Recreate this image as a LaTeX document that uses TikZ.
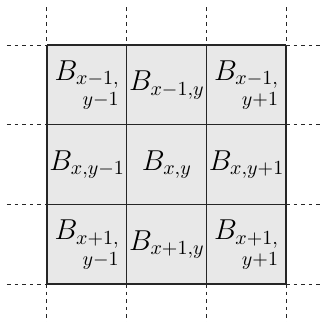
\documentclass[tikz,border=0pt]{standalone}
\usepackage{amsmath}
\begin{document}
\begin{tikzpicture}[x=0.5pt,y=-0.5pt,
  cellbox/.style={minimum width=39.8pt,minimum height=39.8pt,inner sep=0pt,anchor=north west,font=\fontsize{14}{17}\selectfont},
  gridline/.style={draw=black!85,line width=0.75pt},
  gridext/.style={draw=black!85,line width=0.5pt,dash pattern=on 1.8pt off 2pt}]
\useasboundingbox (0,0) rectangle (323,322);
\def\cw{79.67}
\newcommand{\tl}[2]{\vtop{\baselineskip=10.5pt\halign{\hfil$\scriptstyle##$\cr #1\cr #2\cr}}}
\fill[black!9] (47,45) rectangle (286,284);
% cells
\node[cellbox] (c11) at (47,45) {$B_{\tl{x-1,}{y-1}}$};
\node[cellbox] (c12) at ({47+\cw},45) {$B_{x-1,y}$};
\node[cellbox] (c13) at ({47+2*\cw},45) {$B_{\tl{x-1,}{y+1}}$};
\node[cellbox] (c21) at (47,{45+\cw}) {$B_{x,y-1}$};
\node[cellbox] (c22) at ({47+\cw},{45+\cw}) {$B_{x,y}$};
\node[cellbox] (c23) at ({47+2*\cw},{45+\cw}) {$B_{x,y+1}$};
\node[cellbox] (c31) at (47,{45+2*\cw}) {$B_{\tl{x+1,}{y-1}}$};
\node[cellbox] (c32) at ({47+\cw},{45+2*\cw}) {$B_{x+1,y}$};
\node[cellbox] (c33) at ({47+2*\cw},{45+2*\cw}) {$B_{\tl{x+1,}{y+1}}$};
% grid lines and dashed extensions
\foreach \i in {0,...,3}{
  \coordinate (vt\i) at ({47+\cw*\i},7);
  \coordinate (vb\i) at ({47+\cw*\i},45);
  \coordinate (vc\i) at ({47+\cw*\i},284);
  \coordinate (vd\i) at ({47+\cw*\i},323);
  \coordinate (hl\i) at (7,{45+\cw*\i});
  \coordinate (hm\i) at (47,{45+\cw*\i});
  \coordinate (hn\i) at (286,{45+\cw*\i});
  \coordinate (ho\i) at (323,{45+\cw*\i});
  \draw[gridext] (vt\i) -- (vb\i);
  \draw[gridext] (vc\i) -- (vd\i);
  \draw[gridext] (hl\i) -- (hm\i);
  \draw[gridext] (hn\i) -- (ho\i);
  \draw[gridline] (vb\i) -- (vc\i);
  \draw[gridline] (hm\i) -- (hn\i);
}
\end{tikzpicture}
\end{document}
